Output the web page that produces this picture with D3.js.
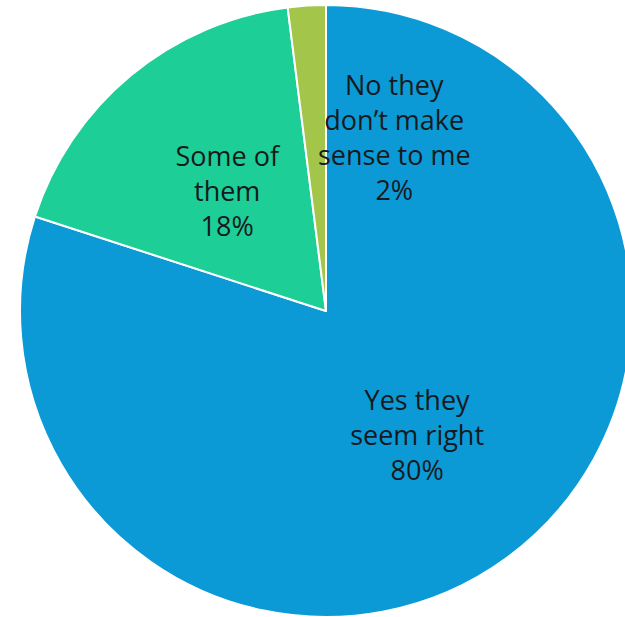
<!DOCTYPE html>
<html>
<head>
<meta charset="utf-8">
<script src="https://cdn.jsdelivr.net/npm/d3@7"></script>
<style>
  html, body { margin: 0; padding: 0; background: #ffffff; }
  svg { display: block; }
</style>
</head>
<body>
<svg id="chart" width="625" height="617"></svg>
<script>
// Survey answers, clockwise from 12 o'clock
const categories = ["Yes they seem right", "Some of them", "No they don\u2019t make sense to me"];
const values = [80, 18, 2];
const labelLines = [
  ["Yes they", "seem right", "80%"],
  ["Some of", "them", "18%"],
  ["No they", "don\u2019t make", "sense to me", "2%"]
];
const colors = ["#0b9ad6", "#1dcf96", "#a2c54a"];

const width = 625, height = 617;
const cx = 326, cy = 311, radius = 306;

const svg = d3.select("#chart");
const g = svg.append("g").attr("transform", `translate(${cx},${cy})`);

const pie = d3.pie().sort(null).value(d => d)(values);
const arc = d3.arc().innerRadius(0).outerRadius(radius);
const labelArc = d3.arc().innerRadius(155).outerRadius(155);

g.selectAll("path.slice")
  .data(pie)
  .join("path")
  .attr("class", "slice")
  .attr("d", arc)
  .attr("fill", (d, i) => colors[i])
  .attr("stroke", "#ffffff")
  .attr("stroke-width", 2)
  .attr("stroke-linejoin", "round");

// The thin slice's label sits beside it, over the large slice
const labelShift = [[0, 0], [0, 0], [78, -18]];
const lineHeight = 35;

const labels = g.selectAll("text.label")
  .data(pie)
  .join("text")
  .attr("class", "label")
  .attr("text-anchor", "middle")
  .attr("font-family", "'Open Sans', sans-serif")
  .attr("font-size", 27)
  .attr("fill", "#161a1e")
  .attr("transform", (d, i) => {
    const [x, y] = labelArc.centroid(d);
    const n = labelLines[i].length;
    return `translate(${x + labelShift[i][0]},${y + labelShift[i][1] - (n - 1) * lineHeight / 2 + 9})`;
  });

labels.selectAll("tspan")
  .data((d, i) => labelLines[i])
  .join("tspan")
  .attr("x", 0)
  .attr("dy", (t, j) => j === 0 ? 0 : lineHeight)
  .text(t => t);
</script>
</body>
</html>
